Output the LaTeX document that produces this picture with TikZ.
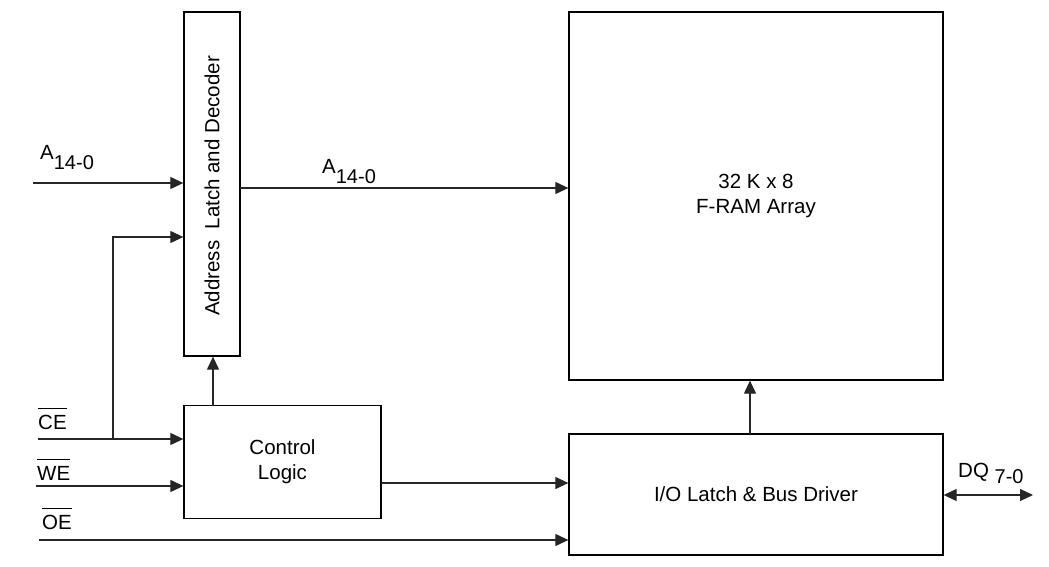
\documentclass[tikz,border=0pt]{standalone}
\usepackage{fontspec}
\setmainfont{Liberation Sans}
\usetikzlibrary{arrows.meta}
\newcommand{\ovl}[1]{\setbox0\hbox{#1}\rlap{\rule[\dimexpr\ht0+5.5pt\relax]{\wd0}{1.1pt}}\box0}
\newcommand{\sub}[2]{\raisebox{-#1}{\fontsize{20}{22}\selectfont #2}}
\begin{document}
\begin{tikzpicture}[x=1pt,y=-1pt,
  box/.style={draw=black,line width=1.3pt,inner sep=0pt,align=center,font=\fontsize{20.5}{25}\selectfont},
  conn/.style={draw=black!85,line width=1.2pt,-{Triangle[length=13pt,width=12pt]}},
  bi/.style={draw=black!85,line width=1.2pt,{Triangle[length=13pt,width=12pt]}-{Triangle[length=13pt,width=12pt]}},
  lbl/.style={inner sep=0pt,anchor=base west,font=\fontsize{20.5}{25}\selectfont}]
\useasboundingbox (0,0) rectangle (1049,567);
% boxes
\node[box,minimum width=56pt,minimum height=344pt] (addr) at (212,184) {};
\node[rotate=90,font=\fontsize{20.5}{25}\selectfont,inner sep=0pt] (addrtxt) at (212,186) {Address\ \ Latch and Decoder};
\node[box,minimum width=374pt,minimum height=368pt] (fram) at (756,196) {32 K x 8\\F-RAM Array};
\node[box,minimum width=197pt,minimum height=113pt] (ctrl) at (282.5,462) {Control\\Logic};
\node[box,minimum width=374pt,minimum height=121pt] (io) at (756,494.5) {I/O Latch \& Bus Driver};
% free ends
\coordinate (ain) at (33,183);
\coordinate (aoutl) at (240,188);
\coordinate (ce) at (38,439);
\coordinate (ceb) at (113,439);
\coordinate (loopend) at (184,237);
\coordinate (we) at (36,486);
\coordinate (oe) at (39,540);
\coordinate (ctrlout) at (381,483);
\coordinate (ctrlup) at (213,406);
\coordinate (ioup) at (750,434);
\coordinate (dq) at (1033,495);
% connectors
\draw[conn] (ain) -- (addr.west |- ain);
\draw[conn] (aoutl) -- (fram.west |- aoutl);
\draw[conn] (ceb) |- (addr.west |- loopend);
\draw[conn] (ce) -- (ctrl.west |- ce);
\draw[conn] (we) -- (ctrl.west |- we);
\draw[conn] (oe) -- (io.west |- oe);
\draw[conn] (ctrlout) -- (io.west |- ctrlout);
\draw[conn] (ctrlup) -- (addr.south -| ctrlup);
\draw[conn] (ioup) -- (fram.south -| ioup);
\draw[bi] (io.east |- dq) -- (dq);
% labels
\node[lbl] (lain) at (40,159) {A\sub{10pt}{14-0}};
\node[lbl] (laout) at (322,173) {A\sub{10pt}{14-0}};
\node[lbl] (lce) at (38,429) {\ovl{CE}};
\node[lbl] (lwe) at (37,480) {\ovl{WE}};
\node[lbl] (loe) at (42,529) {\ovl{OE}};
\node[lbl] (ldq) at (958,477) {DQ \sub{6pt}{7-0}};
\end{tikzpicture}
\end{document}
